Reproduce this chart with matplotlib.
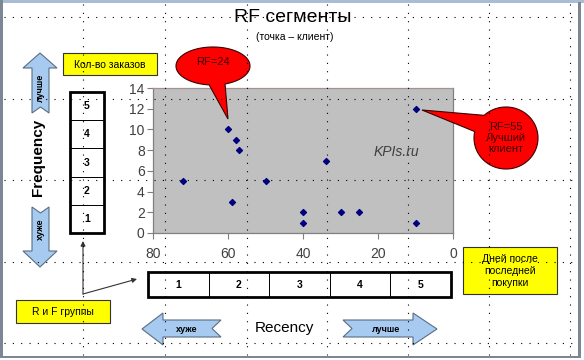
import numpy as np
import matplotlib
matplotlib.use("Agg")
import matplotlib.pyplot as plt
from matplotlib.patches import Polygon, Rectangle

plt.rcParams['font.family'] = ['Liberation Sans', 'DejaVu Sans']

# ---------------- data ----------------
recency = [72, 60, 58, 57, 59, 50, 40, 40, 34, 30, 25, 10, 10]
frequency = [5, 10, 9, 8, 3, 5, 2, 1, 7, 2, 2, 12, 1]
x_ticks = [80, 60, 40, 20, 0]
y_ticks = [0, 2, 4, 6, 8, 10, 12, 14]
r_groups = ['1', '2', '3', '4', '5']
f_groups = ['5', '4', '3', '2', '1']
title = 'RF сегменты'
subtitle = '(точка – клиент)'
callout1 = 'RF=24'
callout2 = 'RF=55\nЛучший\nклиент'

W, H = 584, 360
fig = plt.figure(figsize=(W / 100, H / 100), dpi=100)
fig.patch.set_facecolor('white')

# plot area in pixels
L, R, T, B = 153, 453, 88, 233
ax = fig.add_axes([L / W, 1 - B / H, (R - L) / W, (B - T) / H], zorder=1)
ax.set_facecolor('#C0C0C0')
ax.scatter(recency, frequency, marker='D', s=9, color='#000080', zorder=3)
ax.set_xlim(80, 0)
ax.set_ylim(0, 14)
ax.set_xticks(x_ticks)
ax.set_yticks(y_ticks)
ax.tick_params(direction='out', length=4, width=0.8, color='#808080',
               labelsize=10, labelcolor='#404040', pad=2)
ax.tick_params(axis='x', pad=6)
for s in ['left', 'bottom', 'right']:
    ax.spines[s].set_color('#808080')
    ax.spines[s].set_linewidth(0.9)
ax.spines['top'].set_color('#a89090')
ax.spines['top'].set_linewidth(0.9)
ax.text(0.81, 0.56, 'KPIs.ru', style='italic', fontsize=10, color='#404040',
        ha='center', va='center', transform=ax.transAxes)

# overlay in pixel coordinates
ov = fig.add_axes([0, 0, 1, 1], zorder=5)
ov.set_xlim(0, W)
ov.set_ylim(H, 0)
ov.axis('off')
ov.patch.set_alpha(0)

# frame
ov.add_patch(Rectangle((0, 0), W, 3, color='#a9bcd2', lw=0, zorder=1))
ov.add_patch(Rectangle((0, 0), 3, 358, color='#7b8794', lw=0, zorder=1))
ov.add_patch(Rectangle((578, 2), 2.5, 356, color='#7b8794', lw=0, zorder=1))
ov.add_patch(Rectangle((0, 355.5), 580.5, 2.5, color='#7b8794', lw=0, zorder=1))

# titles
ov.text(293, 17, title, fontsize=14, ha='center', va='center', color='black')
ov.text(295, 37, subtitle, fontsize=7.5, ha='center', va='center', color='black')

# axis labels
ov.text(38, 157, 'Frequency', fontsize=11, fontweight='bold', rotation=90,
        ha='center', va='center')
ov.text(284, 328, 'Recency', fontsize=11, ha='center', va='center')

# yellow boxes
def ybox(x0, y0, x1, y1, txt):
    ov.add_patch(Rectangle((x0, y0), x1 - x0, y1 - y0, facecolor='#FFFF00',
                           edgecolor='#333333', lw=0.8, zorder=2))
    ov.text((x0 + x1) / 2, (y0 + y1) / 2 + 0.5, txt, fontsize=7.5, ha='center',
            va='center', linespacing=1.2, zorder=3)

ybox(63, 53, 157, 75, 'Кол-во заказов')
ybox(463, 247, 557, 294, 'Дней после\nпоследней\nпокупки')
ybox(16, 300, 110, 323, 'R и F группы')

# group boxes
def vbox():
    x0, x1, y0, y1 = 70, 104, 92, 233
    n = len(f_groups)
    h = (y1 - y0) / n
    for i, lab in enumerate(f_groups):
        ov.add_patch(Rectangle((x0, y0 + i * h), x1 - x0, h, facecolor='white',
                               edgecolor='black', lw=0.7, zorder=2))
        ov.text((x0 + x1) / 2, y0 + (i + 0.5) * h, lab, fontsize=7.5,
                fontweight='bold', ha='center', va='center', zorder=3)
    ov.add_patch(Rectangle((x0, y0), x1 - x0, y1 - y0, fill=False,
                           edgecolor='black', lw=2, zorder=3))

def hbox():
    x0, x1, y0, y1 = 148, 451, 272, 297
    n = len(r_groups)
    w = (x1 - x0) / n
    for i, lab in enumerate(r_groups):
        ov.add_patch(Rectangle((x0 + i * w, y0), w, y1 - y0, facecolor='white',
                               edgecolor='black', lw=0.7, zorder=2))
        ov.text(x0 + (i + 0.5) * w, (y0 + y1) / 2, lab, fontsize=7.5,
                fontweight='bold', ha='center', va='center', zorder=3)
    ov.add_patch(Rectangle((x0, y0), x1 - x0, y1 - y0, fill=False,
                           edgecolor='black', lw=2, zorder=3))

vbox()
hbox()

# connector arrows
ov.annotate('', xy=(83, 241), xytext=(83, 294),
            arrowprops=dict(arrowstyle='-|>', color='#333333', lw=0.8,
                            mutation_scale=7, shrinkA=0, shrinkB=0), zorder=3)
ov.annotate('', xy=(137, 279), xytext=(83, 294),
            arrowprops=dict(arrowstyle='-|>', color='#333333', lw=0.8,
                            mutation_scale=7, shrinkA=0, shrinkB=0), zorder=3)

# block arrows
AFC = '#a6caf0'
AEC = '#5a6e82'

def poly(pts):
    ov.add_patch(Polygon(pts, closed=True, facecolor=AFC, edgecolor=AEC,
                         lw=0.8, zorder=2))

# up arrow
poly([(40, 53), (57, 68), (49, 68), (49, 113), (40.5, 107), (32, 113), (32, 68), (23, 68)])
ov.text(40.5, 88, 'лучше', rotation=90, fontsize=6.5, fontweight='bold',
        ha='center', va='center', zorder=3)
# down arrow
poly([(32, 207), (40.5, 213), (49, 207), (49, 251), (57, 251), (40, 267), (23, 251), (32, 251)])
ov.text(40.5, 229, 'хуже', rotation=90, fontsize=6.5, fontweight='bold',
        ha='center', va='center', zorder=3)
# left arrow
poly([(142, 329), (163, 313), (163, 320), (221, 320), (212, 328.5), (221, 337), (163, 337), (163, 345)])
ov.text(187, 329, 'хуже', fontsize=6.5, fontweight='bold', ha='center',
        va='center', zorder=3)
# right arrow
poly([(343, 320), (413, 320), (413, 313), (437, 329), (413, 345), (413, 337), (343, 337), (352, 328.5)])
ov.text(386, 329, 'лучше', fontsize=6.5, fontweight='bold', ha='center',
        va='center', zorder=3)

# callouts
def callout(cx, cy, w, h, a_start, a_end, tip, txt, fs, ty):
    t = np.radians(np.linspace(a_end, a_start + 360, 200))
    pts = list(zip(cx + w / 2 * np.cos(t), cy + h / 2 * np.sin(t)))
    pts.append(tip)
    ov.add_patch(Polygon(pts, closed=True, facecolor='#FF0000',
                         edgecolor='#3a0000', lw=0.8, zorder=4))
    ov.text(cx, ty, txt, fontsize=fs, ha='center', va='center',
            color='#3a0000', linespacing=1.15, zorder=5)

callout(213, 66, 74, 38, 71, 96, (228, 119), callout1, 8, 62)
callout(506, 138, 64, 62, 192, 227, (422, 110), callout2, 8, 138)

# dotted drawing grid on top
gx = [83, 165, 247, 327, 408, 489, 570]
gy = [17, 99, 180, 262, 343]
for x in gx:
    ov.plot([x, x], [4, 355], color='black', lw=0.8, ls=(0, (1, 6.5)), zorder=10)
for y in gy:
    ov.plot([4, 578], [y, y], color='black', lw=0.8, ls=(0, (1, 6.5)), zorder=10)

fig.savefig('out.png', dpi=100, facecolor='white')
